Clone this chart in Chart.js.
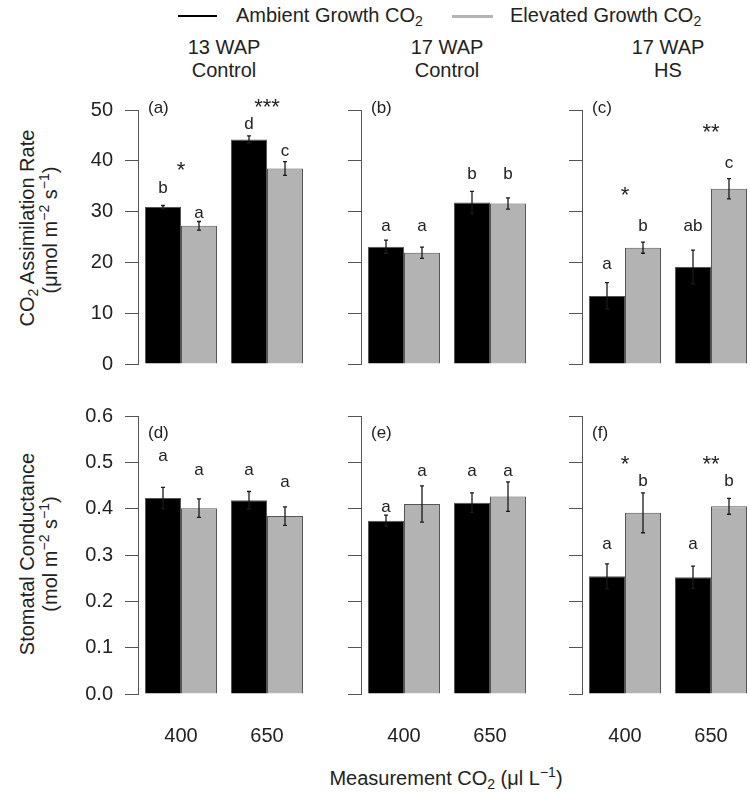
<!DOCTYPE html>
<html>
<head>
<meta charset="utf-8">
<script src="https://cdn.jsdelivr.net/npm/chart.js@4"></script>
<style>
  html, body { margin: 0; padding: 0; overflow: hidden; background: #fff; }
  body { width: 750px; height: 797px; position: relative; font-family: "Liberation Sans", Arial, sans-serif; color: #222; }
  canvas { position: absolute; }
  .t { position: absolute; font-size: 20px; line-height: 22px; white-space: nowrap; }
  .c { text-align: center; width: 200px; }
  .rot { transform: translate(-50%, -50%) rotate(-90deg); }
  .mid { transform: translate(-50%, -50%); }
  sub { font-size: 0.7em; vertical-align: -0.3em; line-height: 0; }
  sup { font-size: 0.7em; vertical-align: 0.55em; line-height: 0; }
  .sw { position: absolute; height: 2px; }
</style>
</head>
<body>

<div class="sw" style="left:178px; top:15px; width:39px; background:#000;"></div>
<div class="t" style="left:236px; top:4px;">Ambient Growth CO<sub>2</sub></div>
<div class="sw" style="left:452px; top:15px; width:41px; height:2.5px; background:#b3b3b3;"></div>
<div class="t" style="left:510px; top:4px;">Elevated Growth CO<sub>2</sub></div>

<div id="titles"></div>

<div class="t rot" style="left:27px; top:228px;">CO<sub>2</sub> Assimilation Rate</div>
<div class="t rot" style="left:50px; top:230px;">(μmol m<sup>−2</sup> s<sup>−1</sup>)</div>
<div class="t rot" style="left:27px; top:554px;">Stomatal Conductance</div>
<div class="t rot" style="left:50px; top:554px;">(mol m<sup>−2</sup> s<sup>−1</sup>)</div>
<div class="t mid" style="left:446px; top:778px;">Measurement CO<sub>2</sub> (μl L<sup>−1</sup>)</div>

<script>
const measCO2 = ['400', '650'];
const seriesNames = ['Ambient Growth CO2', 'Elevated Growth CO2'];
const panelTitles = [['13 WAP', 'Control'], ['17 WAP', 'Control'], ['17 WAP', 'HS']];
const panelTags = [['(a)', '(b)', '(c)'], ['(d)', '(e)', '(f)']];

// CO2 assimilation rate, panels a-c
const assimAmb = [[30.9, 44.2], [23.1, 31.8], [13.4, 19.1]];
const assimAmbErr = [[0.3, 0.7], [1.3, 2.2], [2.6, 3.3]];
const assimElev = [[27.2, 38.5], [21.9, 31.6], [22.9, 34.5]];
const assimElevErr = [[0.85, 1.35], [1.1, 1.1], [1.1, 2.0]];
const assimAmbLetters = [['b', 'd'], ['a', 'b'], ['a', 'ab']];
const assimElevLetters = [['a', 'c'], ['a', 'b'], ['b', 'c']];
const assimAmbLetterY = [[34.6, 47.1], [27.1, 37.25], [19.6, 27.1]];
const assimElevLetterY = [[29.7, 41.8], [27.1, 37.25], [27.1, 39.5]];
const assimStars = [['*', '***'], ['', ''], ['*', '**']];
const assimStarY = [[38.9, 51.3], [0, 0], [34.0, 46.4]];

// stomatal conductance, panels d-f
const gsAmb = [[0.423, 0.418], [0.374, 0.413], [0.254, 0.252]];
const gsAmbErr = [[0.023, 0.019], [0.012, 0.021], [0.027, 0.024]];
const gsElev = [[0.401, 0.384], [0.410, 0.426], [0.391, 0.405]];
const gsElevErr = [[0.020, 0.020], [0.039, 0.032], [0.043, 0.017]];
const gsAmbLetters = [['a', 'a'], ['a', 'a'], ['a', 'a']];
const gsElevLetters = [['a', 'a'], ['a', 'a'], ['b', 'b']];
const gsAmbLetterY = [[0.512, 0.482], [0.403, 0.480], [0.323, 0.323]];
const gsElevLetterY = [[0.482, 0.456], [0.480, 0.480], [0.458, 0.458]];
const gsStars = [['', ''], ['', ''], ['*', '**']];
const gsStarY = [[0, 0], [0, 0], [0.505, 0.505]];

const tagY = [50.4, 0.563];
const yMax = [50, 0.6];
const yStep = [10, 0.1];

// layout
const FONT = '"Liberation Sans", Arial, sans-serif';
const axisX = [138, 361, 582];
const plotW = 172;
const plotTop = [108, 414];
const plotBottom = [363, 694];
const LEFT = 60, PADTOP = 22;

const titles = document.getElementById('titles');
panelTitles.forEach((lines, col) => {
  lines.forEach((s, k) => {
    const d = document.createElement('div');
    d.className = 't c';
    d.style.left = (axisX[col] + plotW / 2 - 100) + 'px';
    d.style.top = (36 + k * 23) + 'px';
    d.textContent = s;
    titles.appendChild(d);
  });
});

function annotations(row, col, stars, starY) {
  return {
    id: 'annot' + row + col,
    afterDatasetsDraw(chart) {
      const { ctx, chartArea } = chart;
      const x = chart.scales.x, y = chart.scales.y;
      ctx.save();
      ctx.fillStyle = '#222';
      ctx.textAlign = 'center';
      ctx.textBaseline = 'middle';
      chart.data.datasets.forEach((ds, i) => {
        chart.getDatasetMeta(i).data.forEach((bar, j) => {
          const v = ds.data[j], e = ds.errors[j];
          const y1 = y.getPixelForValue(v + e), y2 = y.getPixelForValue(v - e);
          ctx.strokeStyle = '#1a1a1a';
          ctx.lineWidth = 1.3;
          ctx.beginPath();
          ctx.moveTo(bar.x, y1); ctx.lineTo(bar.x, y2);
          ctx.moveTo(bar.x - 2, y1); ctx.lineTo(bar.x + 2, y1);
          ctx.moveTo(bar.x - 2, y2); ctx.lineTo(bar.x + 2, y2);
          ctx.stroke();
          ctx.font = '17px ' + FONT;
          ctx.fillText(ds.letters[j], bar.x, y.getPixelForValue(ds.letterY[j]));
        });
      });
      ctx.font = '22px ' + FONT;
      stars.forEach((s, j) => {
        if (!s) return;
        ctx.fillText(s, x.getPixelForValue(j), y.getPixelForValue(starY[j]) + 5);
      });
      ctx.textAlign = 'left';
      ctx.font = '17px ' + FONT;
      ctx.fillText(panelTags[row][col], chartArea.left + 10, y.getPixelForValue(tagY[row]));
      ctx.restore();
    }
  };
}

function makePanel(row, col) {
  const top = row === 0;
  const amb = top ? assimAmb : gsAmb, ambErr = top ? assimAmbErr : gsAmbErr;
  const elev = top ? assimElev : gsElev, elevErr = top ? assimElevErr : gsElevErr;
  const ambL = top ? assimAmbLetters : gsAmbLetters, elevL = top ? assimElevLetters : gsElevLetters;
  const ambLY = top ? assimAmbLetterY : gsAmbLetterY, elevLY = top ? assimElevLetterY : gsElevLetterY;
  const stars = top ? assimStars : gsStars, starY = top ? assimStarY : gsStarY;

  const cv = document.createElement('canvas');
  const bottomSpace = top ? 20 : 60;
  cv.width = LEFT + plotW;
  cv.height = PADTOP + (plotBottom[row] - plotTop[row]) + bottomSpace + (top ? 5 : 0);
  cv.style.left = (axisX[col] - LEFT) + 'px';
  cv.style.top = (plotTop[row] - PADTOP) + 'px';
  document.body.appendChild(cv);

  new Chart(cv, {
    type: 'bar',
    data: {
      labels: measCO2,
      datasets: [
        { label: seriesNames[0], data: amb[col], errors: ambErr[col], letters: ambL[col], letterY: ambLY[col],
          backgroundColor: '#000', borderColor: '#555', borderWidth: 1 },
        { label: seriesNames[1], data: elev[col], errors: elevErr[col], letters: elevL[col], letterY: elevLY[col],
          backgroundColor: '#b3b3b3', borderColor: '#555', borderWidth: 1 }
      ]
    },
    options: {
      responsive: false,
      animation: false,
      layout: { padding: { top: PADTOP, right: 0, left: 0, bottom: 0 } },
      datasets: { bar: { categoryPercentage: 0.837, barPercentage: 1 } },
      plugins: { legend: { display: false }, tooltip: { enabled: false } },
      scales: {
        x: {
          grid: { display: false },
          border: { display: false },
          ticks: { display: !top, color: '#222', font: { family: FONT, size: 20 }, padding: 22 },
          afterFit: s => { s.height = bottomSpace; }
        },
        y: {
          min: 0, max: yMax[row],
          ticks: {
            stepSize: yStep[row],
            color: '#222', font: { family: FONT, size: 20 }, padding: 12,
            callback: v => col ? '' : (top ? v : v.toFixed(1))
          },
          grid: { drawOnChartArea: false, drawTicks: true, tickLength: 13, color: '#555' },
          border: { display: true, color: '#555' },
          afterFit: s => { s.width = LEFT; }
        }
      }
    },
    plugins: [annotations(row, col, stars[col], starY[col])]
  });
}

for (let r = 0; r < 2; r++) for (let c = 0; c < 3; c++) makePanel(r, c);
</script>
</body>
</html>
